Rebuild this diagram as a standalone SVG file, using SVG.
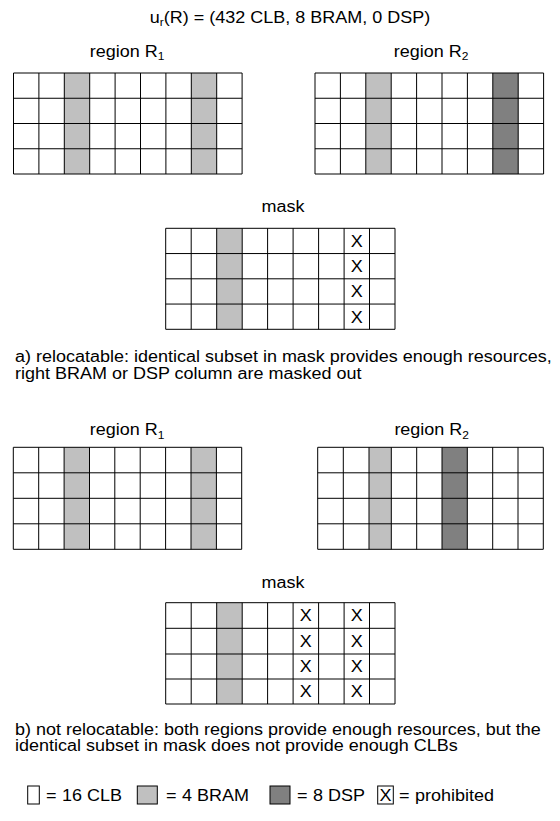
<svg xmlns="http://www.w3.org/2000/svg" width="560" height="821" viewBox="0 0 560 821">
<style>
.t{font-family:"Liberation Sans",Arial,sans-serif;font-size:18px;fill:#000}
.m{text-anchor:middle}
.g{stroke:#000;stroke-width:1;fill:none}
.lg{fill:#c0c0c0}
.dg{fill:#808080}
</style>
<rect width="560" height="821" fill="#fff"/>
<text class="t m" transform="translate(290 22.5) scale(1 0.88)">u<tspan font-size="12" dy="4">r</tspan><tspan dy="-4">(R) = (432 CLB, 8 BRAM, 0 DSP)</tspan></text>

<g id="r1a">
<text class="t m" transform="translate(127 56.5) scale(1 0.88)">region R<tspan font-size="12" dy="4">1</tspan></text>
<rect class="lg" x="64.3" y="73" width="25.4" height="101"/>
<rect class="lg" x="191.3" y="73" width="25.4" height="101"/>
<path class="g" d="M13.5 73H242.1M13.5 98.25H242.1M13.5 123.5H242.1M13.5 148.75H242.1M13.5 174H242.1M13.5 73V174M38.9 73V174M64.3 73V174M89.7 73V174M115.1 73V174M140.5 73V174M165.9 73V174M191.3 73V174M216.7 73V174M242.1 73V174"/>
</g>

<g id="r2a">
<text class="t m" transform="translate(431 56.5) scale(1 0.88)">region R<tspan font-size="12" dy="4">2</tspan></text>
<rect class="lg" x="365.8" y="73" width="25.4" height="101"/>
<rect class="dg" x="492.8" y="73" width="25.4" height="101"/>
<path class="g" d="M315 73H543.6M315 98.25H543.6M315 123.5H543.6M315 148.75H543.6M315 174H543.6M315 73V174M340.4 73V174M365.8 73V174M391.2 73V174M416.6 73V174M442 73V174M467.4 73V174M492.8 73V174M518.2 73V174M543.6 73V174"/>
</g>

<g id="maska">
<text class="t m" transform="translate(283 212) scale(1 0.88)">mask</text>
<rect class="lg" x="216.7" y="228.3" width="25.5" height="101"/>
<path class="g" d="M165.7 228.3H395M165.7 253.55H395M165.7 278.8H395M165.7 304.05H395M165.7 329.3H395M165.7 228.3V329.3M191.2 228.3V329.3M216.7 228.3V329.3M242.2 228.3V329.3M267.6 228.3V329.3M293.1 228.3V329.3M318.6 228.3V329.3M344.1 228.3V329.3M369.5 228.3V329.3M395 228.3V329.3"/>
<text class="t m" transform="translate(356.8 246.8) scale(1 0.88)">X</text>
<text class="t m" transform="translate(356.8 272) scale(1 0.88)">X</text>
<text class="t m" transform="translate(356.8 297.3) scale(1 0.88)">X</text>
<text class="t m" transform="translate(356.8 322.5) scale(1 0.88)">X</text>
</g>

<g id="captiona">
<text class="t" transform="translate(15 362) scale(1 0.88)">a) relocatable: identical subset in mask provides enough resources,</text>
<text class="t" transform="translate(15 378.5) scale(1 0.88)">right BRAM or DSP column are masked out</text>
</g>

<g id="r1b">
<text class="t m" transform="translate(127 435) scale(1 0.88)">region R<tspan font-size="12" dy="4">1</tspan></text>
<rect class="lg" x="64.1" y="447.3" width="25.4" height="102"/>
<rect class="lg" x="191" y="447.3" width="25.4" height="102"/>
<path class="g" d="M13.3 447.3H241.7M13.3 472.8H241.7M13.3 498.3H241.7M13.3 523.8H241.7M13.3 549.3H241.7M13.3 447.3V549.3M38.7 447.3V549.3M64.1 447.3V549.3M89.5 447.3V549.3M114.8 447.3V549.3M140.2 447.3V549.3M165.6 447.3V549.3M191 447.3V549.3M216.4 447.3V549.3M241.7 447.3V549.3"/>
</g>

<g id="r2b">
<text class="t m" transform="translate(431.7 435) scale(1 0.88)">region R<tspan font-size="12" dy="4">2</tspan></text>
<rect class="lg" x="369" y="447.3" width="22.3" height="102"/>
<rect class="dg" x="442" y="447.3" width="25.3" height="102"/>
<path class="g" d="M317.7 447.3H543.3M317.7 472.8H543.3M317.7 498.3H543.3M317.7 523.8H543.3M317.7 549.3H543.3M317.7 447.3V549.3M343.3 447.3V549.3M369 447.3V549.3M391.3 447.3V549.3M416.7 447.3V549.3M442 447.3V549.3M467.3 447.3V549.3M492.7 447.3V549.3M518 447.3V549.3M543.3 447.3V549.3"/>
</g>

<g id="maskb">
<text class="t m" transform="translate(283 588.3) scale(1 0.88)">mask</text>
<rect class="lg" x="216.7" y="602.7" width="25.5" height="101.3"/>
<path class="g" d="M165.7 602.7H395M165.7 628.3H395M165.7 654H395M165.7 679H395M165.7 704H395M165.7 602.7V704M191.2 602.7V704M216.7 602.7V704M242.2 602.7V704M267.6 602.7V704M293.1 602.7V704M318.6 602.7V704M344.1 602.7V704M369.5 602.7V704M395 602.7V704"/>
<text class="t m" transform="translate(305.8 621.3) scale(1 0.88)">X</text>
<text class="t m" transform="translate(305.8 646.9) scale(1 0.88)">X</text>
<text class="t m" transform="translate(305.8 672.3) scale(1 0.88)">X</text>
<text class="t m" transform="translate(305.8 697.3) scale(1 0.88)">X</text>
<text class="t m" transform="translate(356.8 621.3) scale(1 0.88)">X</text>
<text class="t m" transform="translate(356.8 646.9) scale(1 0.88)">X</text>
<text class="t m" transform="translate(356.8 672.3) scale(1 0.88)">X</text>
<text class="t m" transform="translate(356.8 697.3) scale(1 0.88)">X</text>
</g>

<g id="captionb">
<text class="t" transform="translate(15 734.5) scale(1 0.88)">b) not relocatable: both regions provide enough resources, but the</text>
<text class="t" transform="translate(15 750.5) scale(1 0.88)">identical subset in mask does not provide enough CLBs</text>
</g>

<g id="legend">
<rect class="g" x="27.7" y="786" width="11.6" height="18"/>
<text class="t" transform="translate(46 801) scale(1 0.88)">=</text>
<text class="t" transform="translate(62 801) scale(1 0.88)">16 CLB</text>
<rect class="lg" x="137.3" y="786" width="20" height="18" stroke="#000"/>
<text class="t" transform="translate(166 801) scale(1 0.88)">=</text>
<text class="t" transform="translate(182 801) scale(1 0.88)">4 BRAM</text>
<rect class="dg" x="270" y="786" width="20" height="18" stroke="#000"/>
<text class="t" transform="translate(297 801) scale(1 0.88)">=</text>
<text class="t" transform="translate(313 801) scale(1 0.88)">8 DSP</text>
<rect class="g" x="377.7" y="786" width="15.6" height="18"/>
<text class="t m" transform="translate(385.5 801) scale(1 0.88)">X</text>
<text class="t" transform="translate(399 801) scale(1 0.88)">=</text>
<text class="t" transform="translate(415 801) scale(1 0.88)">prohibited</text>
</g>
</svg>
